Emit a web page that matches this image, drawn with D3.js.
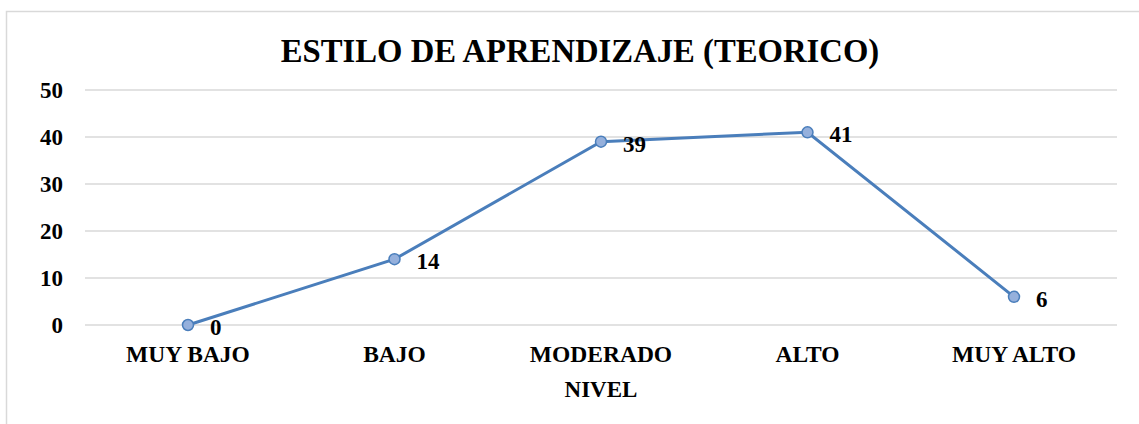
<!DOCTYPE html>
<html>
<head>
<meta charset="utf-8">
<script src="https://cdn.jsdelivr.net/npm/d3@7"></script>
<style>
  body { margin: 0; background: #fff; }
  text { font-family: "Liberation Serif", "Times New Roman", serif; font-weight: bold; fill: #000; }
</style>
</head>
<body>
<script>
var categories = ['MUY BAJO', 'BAJO', 'MODERADO', 'ALTO', 'MUY ALTO'];
var values = [0, 14, 39, 41, 6];
var yTicks = [0, 10, 20, 30, 40, 50];

var W = 1139, H = 424;
var svg = d3.select('body').append('svg').attr('width', W).attr('height', H);

// chart frame
svg.append('rect')
    .attr('x', 6.5).attr('y', 11.5)
    .attr('width', W).attr('height', H)
    .attr('fill', 'none').attr('stroke', '#d9d9d9').attr('stroke-width', 1.5);

var x = d3.scalePoint().domain(categories).range([188, 1014]);
var y = d3.scaleLinear().domain([0, 50]).range([325, 90]);

/*GRIDLINES*/
svg.selectAll('line.grid')
    .data(yTicks)
    .enter().append('line')
        .attr('class', 'grid')
        .attr('x1', 85).attr('x2', 1117)
        .attr('y1', function(d) { return y(d); })
        .attr('y2', function(d) { return y(d); })
        .attr('stroke', '#d9d9d9')
        .attr('stroke-width', 1.5);

/*Y TICK LABELS*/
svg.selectAll('text.ytick')
    .data(yTicks)
    .enter().append('text')
        .attr('class', 'ytick')
        .attr('x', 63)
        .attr('y', function(d) { return y(d) + 8; })
        .attr('text-anchor', 'end')
        .attr('font-size', 23)
        .text(function(d) { return d; });

/*CATEGORY LABELS*/
svg.selectAll('text.xtick')
    .data(categories)
    .enter().append('text')
        .attr('class', 'xtick')
        .attr('x', function(d) { return x(d); })
        .attr('y', 362)
        .attr('text-anchor', 'middle')
        .attr('font-size', 23.5)
        .text(function(d) { return d; });

svg.append('text')
    .attr('x', 601).attr('y', 397)
    .attr('text-anchor', 'middle')
    .attr('font-size', 23)
    .text('NIVEL');

svg.append('text')
    .attr('x', 580).attr('y', 62)
    .attr('text-anchor', 'middle')
    .attr('font-size', 32.7)
    .text('ESTILO DE APRENDIZAJE (TEORICO)');

/*LINE*/
var line = d3.line()
    .x(function(d, i) { return x(categories[i]); })
    .y(function(d) { return y(d); });

svg.append('path')
    .datum(values)
    .attr('d', line)
    .attr('fill', 'none')
    .attr('stroke', '#4a7ebb')
    .attr('stroke-width', 3);

svg.selectAll('circle')
    .data(values)
    .enter().append('circle')
        .attr('cx', function(d, i) { return x(categories[i]); })
        .attr('cy', function(d) { return y(d); })
        .attr('r', 5.5)
        .attr('fill', '#95b0dc')
        .attr('stroke', '#4a7ebb')
        .attr('stroke-width', 1.5);

/*DATA LABELS*/
svg.selectAll('text.dlabel')
    .data(values)
    .enter().append('text')
        .attr('class', 'dlabel')
        .attr('x', function(d, i) { return x(categories[i]) + 22; })
        .attr('y', function(d) { return y(d) + 10; })
        .attr('font-size', 23)
        .text(function(d) { return d; });
</script>
</body>
</html>
